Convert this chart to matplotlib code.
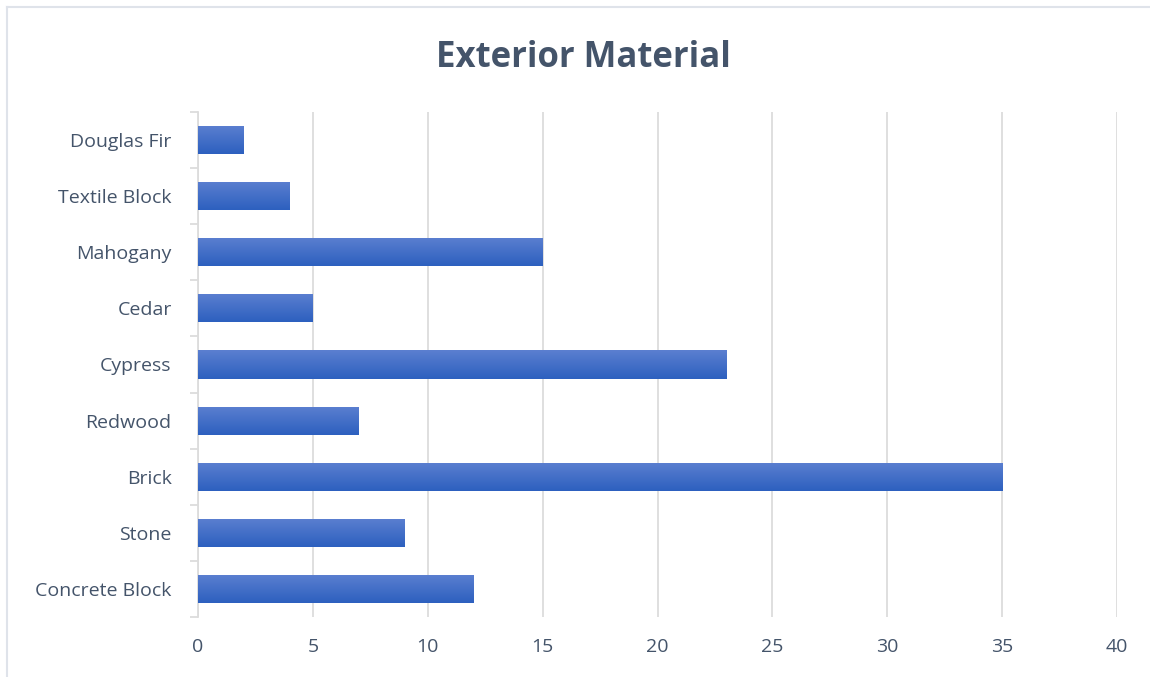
import matplotlib.pyplot as plt
import numpy as np
from matplotlib.colors import LinearSegmentedColormap
from matplotlib.lines import Line2D

# Daten
materials = ["Concrete Block", "Stone", "Brick", "Redwood", "Cypress",
             "Cedar", "Mahogany", "Textile Block", "Douglas Fir"]
counts = [12, 9, 35, 7, 23, 5, 15, 4, 2]
x_ticks = [0, 5, 10, 15, 20, 25, 30, 35, 40]

plt.rcParams["font.family"] = ["Open Sans", "DejaVu Sans"]
text_col = "#44546a"
grid_col = "#dcdcdc"

fig = plt.figure(figsize=(11.5, 6.77), dpi=100)
ax = fig.add_axes([0.1722, 0.0886, 0.7991, 0.746])

pos = np.arange(len(materials))
bars = ax.barh(pos, counts, height=0.5, color="#4472c4", zorder=2)

# Farbverlauf in den Balken
grad = LinearSegmentedColormap.from_list("g", ["#2d60bf", "#5b7fd0"])
for b in bars:
    x0, y0 = b.get_x(), b.get_y()
    w, h = b.get_width(), b.get_height()
    img = ax.imshow(np.linspace(0, 1, 50).reshape(-1, 1), cmap=grad,
                    extent=[x0, x0 + w, y0, y0 + h], origin="lower",
                    aspect="auto", zorder=3)
    img.set_clip_path(b)

ax.set_xlim(0, 40)
ax.set_ylim(-0.5, len(materials) - 0.5)
ax.set_xticks(x_ticks)
ax.set_yticks(pos)
ax.set_yticklabels(materials)
ax.set_yticks(np.arange(-0.5, len(materials), 1), minor=True)

ax.grid(axis="x", color=grid_col, linewidth=1.3, zorder=0)
for s in ["top", "right", "bottom"]:
    ax.spines[s].set_visible(False)
ax.spines["left"].set_color(grid_col)
ax.spines["left"].set_linewidth(1.3)

ax.tick_params(axis="x", length=0, pad=15, labelsize=14, labelcolor=text_col)
ax.tick_params(axis="y", which="major", length=0, pad=19, labelsize=14, labelcolor=text_col)
ax.tick_params(axis="y", which="minor", length=6, width=1.3, color=grid_col)

fig.text(0.507, 0.915, "Exterior Material", ha="center", va="center",
         fontsize=25, fontweight="bold", color=text_col)

# Rahmen
fig.add_artist(Line2D([0.006, 0.006], [0, 0.99], transform=fig.transFigure,
                      color="#dfe3ea", linewidth=1.5))
fig.add_artist(Line2D([0.006, 1], [0.99, 0.99], transform=fig.transFigure,
                      color="#dfe3ea", linewidth=1.5))

fig.savefig("out.png", dpi=100)
